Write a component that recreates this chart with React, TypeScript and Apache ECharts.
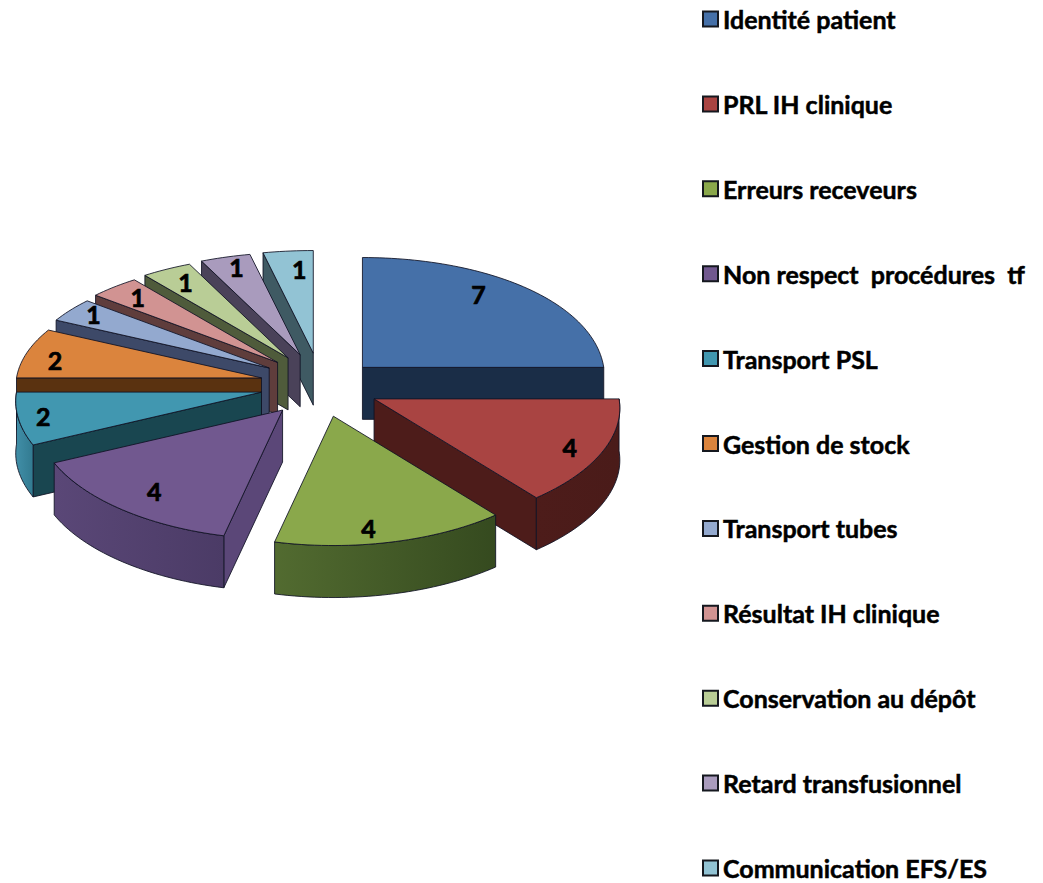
import React, { useEffect, useRef } from "react";
import * as echarts from "echarts";

const CATEGORIES = [
  "Identité patient",
  "PRL IH clinique",
  "Erreurs receveurs",
  "Non respect  procédures  tf",
  "Transport PSL",
  "Gestion de stock",
  "Transport tubes",
  "Résultat IH clinique",
  "Conservation au dépôt",
  "Retard transfusionnel",
  "Communication EFS/ES",
];
const VALUES = [7, 4, 4, 4, 2, 2, 1, 1, 1, 1, 1];
const TOP_COLORS = ["#4570A8", "#A94442", "#8AA84B", "#71588F", "#4197B0", "#DB843D", "#93A9CF", "#D19392", "#B9CD96", "#A99BBD", "#92C3D4"];
const WALL_COLORS = ["#1A2D47", "#4D1C1A", "#3F5524", "#5B4778", "#194650", "#5A3210", "#3D4968", "#5F3D3C", "#4F5B3B", "#4A4259", "#3F5A63"];
const ARC_LEFT = ["#1A2D47", "#4D1C1A", "#526B30", "#5A4777", "#418FA8", "#5A3210", "#3D4968", "#5F3D3C", "#4F5B3B", "#4A4259", "#3F5A63"];
const ARC_RIGHT = ["#1A2D47", "#4A1B19", "#354A1F", "#4B3B66", "#327A90", "#5A3210", "#3D4968", "#5F3D3C", "#4F5B3B", "#4A4259", "#3F5A63"];
// painter's order, back to front
const DRAW_ORDER = [0, 10, 9, 8, 7, 6, 5, 4, 1, 3, 2];
// where the value label sits inside its slice (fraction of the radius, x and y)
const LABEL_FX = [0.71, 0.857, 0.6, 0.79, 0.898, 0.88, 0.885, 0.855, 0.845, 0.85, 0.56];
const LABEL_FY = [0.98, 0.92, 0.89, 0.82, 0.9, 0.7, 0.93, 0.87, 0.86, 0.9, 0.82];

const FONT = "Lato";
const CX = 320, CY = 385, EX = 60, EY = 32, RX = 245, RY = 116, P = 0.08, Q = 0.115, DEPTH = 52;
const TOTAL = VALUES.reduce((s, v) => s + v, 0);
const rad = (d: number) => (d * Math.PI) / 180;
const startAngle = (i: number) => (VALUES.slice(0, i).reduce((s, v) => s + v, 0) / TOTAL) * 360;

function apexOf(i: number) {
  const a0 = startAngle(i);
  const m = rad(a0 + (VALUES[i] / TOTAL) * 180);
  return [CX + EX * Math.sin(m), CY - EY * Math.cos(m) + (i === 0 ? 5 : 0)];
}
function rim(i: number, deg: number) {
  const [ax, ay] = apexOf(i);
  const a = rad(deg);
  const rx = RX * (i === 0 ? 0.985 : 1);
  const ry = RY * (i === 0 ? 1.07 : 1);
  return [ax + rx * (1 - P * Math.cos(a)) * Math.sin(a), ay - ry * (1 - Q * Math.cos(a)) * Math.cos(a)];
}
function arc(i: number, from: number, to: number) {
  const n = Math.max(2, Math.ceil(Math.abs(to - from) / 1.5));
  const pts: number[][] = [];
  for (let k = 0; k <= n; k++) pts.push(rim(i, from + ((to - from) * k) / n));
  return pts;
}
const STROKE = "rgba(15,18,35,0.85)";
const down = (p: number[]) => [p[0], p[1] + DEPTH];

function renderSlice(i: number) {
  const a0 = startAngle(i);
  const a1 = a0 + (VALUES[i] / TOTAL) * 360;
  const apex = apexOf(i);
  const children: any[] = [];
  const poly = (points: number[][], fill: any) => ({
    type: "polygon",
    shape: { points },
    style: { fill, stroke: STROKE, lineWidth: 1 },
  });
  // radial walls facing the viewer
  if (Math.sin(rad(a1)) > 0.001) {
    const e = rim(i, a1);
    children.push(poly([apex, e, down(e), down(apex)], WALL_COLORS[i]));
  }
  if (Math.sin(rad(a0)) < -0.001) {
    const e = rim(i, a0);
    children.push(poly([apex, e, down(e), down(apex)], WALL_COLORS[i]));
  }
  // outer wall
  const w0 = Math.max(a0, 90), w1 = Math.min(a1, 270);
  if (w1 > w0) {
    const top = arc(i, w0, w1);
    const bottom = top.map(down).reverse();
    children.push(
      poly(
        [...top, ...bottom],
        new echarts.graphic.LinearGradient(0, 0, 1, 0, [
          { offset: 0, color: ARC_LEFT[i] },
          { offset: 1, color: ARC_RIGHT[i] },
        ])
      )
    );
  }
  // top face
  children.push(poly([apex, ...arc(i, a0, a1)], TOP_COLORS[i]));
  // value label
  const m = rad(a0 + (a1 - a0) / 2);
  children.push({
    type: "text",
    style: {
      x: apex[0] + LABEL_FX[i] * RX * (1 - P * Math.cos(m)) * Math.sin(m),
      y: apex[1] - LABEL_FY[i] * RY * (1 - Q * Math.cos(m)) * Math.cos(m),
      text: String(VALUES[i]),
      fill: "#000",
      stroke: "#000",
      lineWidth: 0.7,
      font: `bold 25px ${FONT}`,
      textAlign: "center",
      textVerticalAlign: "middle",
    },
  });
  return { type: "group", children };
}

export default function App() {
  const ref = useRef<HTMLDivElement>(null);
  useEffect(() => {
    const chart = echarts.init(ref.current!, null, { renderer: "svg" });
    chart.setOption({
      animation: false,
      backgroundColor: "#fff",
      legend: {
        orient: "vertical",
        left: 702,
        top: 6,
        height: 876,
        padding: 0,
        itemWidth: 15,
        itemHeight: 15,
        itemGap: 58.9,
        selectedMode: false,
        textStyle: {
          fontFamily: FONT,
          fontWeight: "bold",
          fontSize: 25,
          color: "#000",
          lineHeight: 26,
          textBorderColor: "#000",
          textBorderWidth: 0.5,
        },
        data: CATEGORIES.map((name, i) => ({
          name,
          icon: "rect",
          itemStyle: { color: TOP_COLORS[i], borderColor: "#15181f", borderWidth: 2 },
        })),
      },
      series: DRAW_ORDER.map((i) => ({
        type: "custom",
        name: CATEGORIES[i],
        coordinateSystem: "none",
        silent: true,
        data: [[VALUES[i]]],
        renderItem: () => renderSlice(i),
      })),
    });
    return () => chart.dispose();
  }, []);
  return <div ref={ref} style={{ position: "absolute", left: 0, top: 0, width: 1043, height: 883 }} />;
}
